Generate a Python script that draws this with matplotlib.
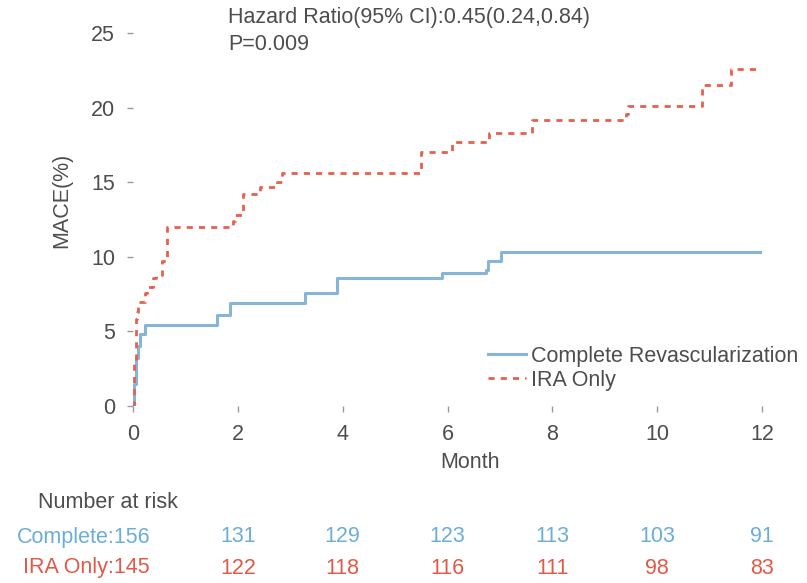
import matplotlib
matplotlib.use("Agg")
import matplotlib.pyplot as plt
from matplotlib.transforms import blended_transform_factory

plt.rcParams['font.family'] = ['Liberation Sans', 'DejaVu Sans']

# cumulative MACE (%), step times in months
blue_t = [0, 0.02, 0.06, 0.10, 0.14, 0.23, 1.60, 1.85, 3.28, 3.90, 5.90, 6.74, 6.78, 7.02, 12.0]
blue_y = [0, 1.5, 3.2, 4.0, 4.8, 5.4, 6.1, 6.9, 7.6, 8.6, 8.9, 9.1, 9.7, 10.3, 10.3]

red_t = [0, 0.02, 0.05, 0.08, 0.10, 0.22, 0.26, 0.38, 0.44, 0.55, 0.65, 1.91, 1.95, 2.10,
         2.42, 2.75, 2.85, 5.50, 6.09, 6.79, 7.62, 9.40, 9.45, 10.86, 11.40, 12.0]
red_y = [0, 3.0, 5.8, 6.3, 7.0, 7.6, 8.0, 8.6, 8.8, 9.7, 12.0, 12.4, 12.8, 14.2,
         14.7, 15.0, 15.6, 17.0, 17.7, 18.3, 19.2, 19.6, 20.1, 21.5, 22.6, 22.6]

risk_months = [2, 4, 6, 8, 10, 12]
risk_complete = [131, 129, 123, 113, 103, 91]
risk_ira = [122, 118, 116, 111, 98, 83]

blue_line = '#86B5D8'
red_line = '#E6604F'
blue_text = '#6BAED6'
red_text = '#E05A47'
grey = '#4D4D4D'
fs = 15.5

fig = plt.figure(figsize=(8.07, 5.83), dpi=100)
ax = fig.add_axes([133 / 807, 1 - 406 / 583, (762 - 133) / 807, (406 - 33) / 583])

ax.step(blue_t, blue_y, where='post', color=blue_line, lw=2.2, label='Complete Revascularization')
ax.step(red_t, red_y, where='post', color=red_line, lw=2.0, linestyle=(0, (2.2, 2.2)),
        label='IRA Only')

ax.set_xlim(0, 12)
ax.set_ylim(0, 25)
ax.set_xticks(range(0, 13, 2))
ax.set_yticks(range(0, 26, 5))
for s in ax.spines.values():
    s.set_visible(False)
ax.tick_params(colors='#999999', labelcolor=grey, labelsize=fs, length=4.5, width=1, pad=8.5)

fig.text(470 / 807, 1 - 462 / 583, 'Month', ha='center', va='center', fontsize=fs, color=grey)
fig.text(62 / 807, 1 - 200 / 583, 'MACE(%)', ha='center', va='center', rotation=90,
         fontsize=fs, color=grey)

fig.text(228 / 807, 1 - 18 / 583, 'Hazard Ratio(95% CI):0.45(0.24,0.84)', ha='left', va='center',
         fontsize=fs, color=grey)
fig.text(228 / 807, 1 - 45 / 583, 'P=0.009', ha='left', va='center', fontsize=fs, color=grey)

ax.legend(loc='upper left', bbox_to_anchor=(488 / 807, 1 - 346 / 583), bbox_transform=fig.transFigure,
          frameon=False, fontsize=fs, handlelength=1.75, handletextpad=0.25, labelspacing=0.12,
          borderaxespad=0, borderpad=0, labelcolor=grey)

# number at risk table
fig.text(38 / 807, 1 - 502 / 583, 'Number at risk', ha='left', va='center', fontsize=fs, color=grey)
trans = blended_transform_factory(ax.transData, fig.transFigure)
fig.text(150 / 807, 1 - 537 / 583, 'Complete:156', ha='right', va='center', fontsize=fs, color=blue_text)
fig.text(150 / 807, 1 - 568 / 583, 'IRA Only:145', ha='right', va='center', fontsize=fs, color=red_text)
for m, a, b in zip(risk_months, risk_complete, risk_ira):
    ax.text(m, 1 - 537 / 583, str(a), transform=trans, ha='center', va='center', fontsize=fs,
            color=blue_text)
    ax.text(m, 1 - 568 / 583, str(b), transform=trans, ha='center', va='center', fontsize=fs,
            color=red_text)

fig.savefig('out.png', dpi=100)
